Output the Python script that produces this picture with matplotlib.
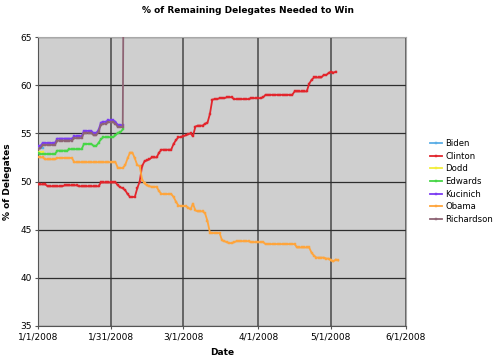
import matplotlib
matplotlib.use("Agg")
import matplotlib.pyplot as plt
import matplotlib.dates as mdates
import numpy as np
import pandas as pd

# daily values, first value = 1/1/2008
start = "2008-01-01"

biden = [53.55, 53.5, 53.5]
dodd = [53.1, 53.1, 53.1]

clinton = [49.7, 49.7, 49.7, 49.7, 49.5, 49.5, 49.5, 49.5, 49.5, 49.5, 49.5,
           49.6, 49.6, 49.6, 49.6, 49.6, 49.6,
           49.5, 49.5, 49.5, 49.5, 49.5, 49.5, 49.5, 49.5, 49.5,
           49.9, 49.9, 49.9, 49.9, 49.9, 49.9, 49.9,
           49.6, 49.4, 49.3, 49.1, 48.7, 48.4, 48.4, 48.4, 49.3, 50.0,
           51.6, 52.1, 52.2, 52.3, 52.5, 52.5, 52.5, 53.0, 53.3,
           53.3, 53.3, 53.3, 53.3, 53.9, 54.3, 54.6, 54.6, 54.7, 54.8, 54.9, 55.0, 54.7,
           55.7, 55.8, 55.8, 55.8, 56.0, 56.1, 57.0, 58.5, 58.55, 58.55,
           58.65, 58.65, 58.65, 58.75, 58.75, 58.75,
           58.55, 58.55, 58.55, 58.55, 58.55, 58.55, 58.55,
           58.65, 58.65, 58.65, 58.65, 58.65, 58.75,
           59.0, 59.0, 59.0, 59.0, 59.0, 59.0, 59.0, 59.0, 59.0, 59.0, 59.0, 59.0,
           59.35, 59.35, 59.35, 59.35, 59.35, 59.35,
           60.15, 60.55, 60.8, 60.8, 60.8, 60.8, 61.05, 61.05, 61.25, 61.4, 61.3, 61.4]

obama = [52.55, 52.5, 52.5, 52.3, 52.3, 52.3, 52.3, 52.3,
         52.45, 52.45, 52.45, 52.45, 52.45, 52.45, 52.45,
         52.0, 52.0, 52.0, 52.0, 52.0, 52.0, 52.0, 52.0, 52.0,
         52.0, 52.0, 52.0, 52.0, 52.0, 52.0, 52.0, 52.0, 52.0,
         51.4, 51.4, 51.4, 51.7, 52.4, 53.0, 53.0, 52.4, 51.7, 51.6,
         50.2, 49.8, 49.6, 49.5, 49.45, 49.45, 49.45, 49.0,
         48.7, 48.7, 48.7, 48.7, 48.7, 48.4, 47.9, 47.5, 47.45, 47.45, 47.45,
         47.3, 47.1, 47.7, 47.0, 46.9, 46.9, 46.9, 46.7, 45.9, 44.7,
         44.65, 44.65, 44.65, 44.65, 43.9, 43.8, 43.7, 43.6, 43.6, 43.7,
         43.8, 43.8, 43.8, 43.8, 43.8, 43.8,
         43.7, 43.7, 43.7, 43.7, 43.7, 43.7,
         43.5, 43.5, 43.5, 43.5, 43.5, 43.5, 43.5, 43.5, 43.5, 43.5, 43.5, 43.5, 43.5,
         43.15, 43.15, 43.15, 43.15, 43.15, 43.15,
         42.6, 42.3, 42.1, 42.1, 42.1, 42.1, 42.0, 42.0, 41.8, 41.7, 41.9, 41.8]

edwards = [53.0, 52.85, 52.85, 52.85, 52.85, 52.85, 52.85, 52.85,
           53.2, 53.2, 53.2, 53.2, 53.2,
           53.35, 53.35, 53.35, 53.35, 53.35, 53.35,
           53.9, 53.9, 53.9, 53.9, 53.7, 53.7, 54.0, 54.4,
           54.6, 54.6, 54.6, 54.6, 54.6, 54.8, 55.05, 55.1, 55.4]

kucinich = [53.7, 53.7, 54.0, 54.0, 54.0, 54.0, 54.0, 54.0,
            54.45, 54.45, 54.45, 54.45, 54.45, 54.45, 54.45,
            54.7, 54.7, 54.7, 54.7, 55.25, 55.25, 55.25, 55.25,
            55.0, 55.0, 55.35, 56.1, 56.2, 56.2, 56.35, 56.35, 56.35, 56.2,
            55.85, 55.85, 55.85]

richardson = [53.4, 53.45, 53.8, 53.8, 53.8, 53.8, 53.8, 53.8,
              54.25, 54.25, 54.25, 54.25, 54.25, 54.25, 54.25,
              54.5, 54.5, 54.5, 54.5, 55.05, 55.05, 55.05, 55.05,
              54.8, 54.8, 55.15, 55.9, 56.0, 56.0, 56.15, 56.15, 56.15, 56.0,
              55.65, 55.65, 55.65, 100.0]

names = ["Biden", "Clinton", "Dodd", "Edwards", "Kucinich", "Obama", "Richardson"]
serie = [biden, clinton, dodd, edwards, kucinich, obama, richardson]
kolory = ["#5aaee6", "#e2252c", "#f2ee3a", "#46d646", "#7b3cf2", "#ffa53c", "#8e6474"]

tick_dates = ["2008-01-01", "2008-01-31", "2008-03-01", "2008-04-01", "2008-05-01", "2008-06-01"]
tick_labels = ["1/1/2008", "1/31/2008", "3/1/2008", "4/1/2008", "5/1/2008", "6/1/2008"]
y_ticks = [35, 40, 45, 50, 55, 60, 65]

fig = plt.figure(figsize=(5.00, 3.63), dpi=100)
ax = fig.add_axes([0.076, 0.102, 0.736, 0.796])
ax.set_facecolor("#cfcfcf")

# siatka - pionowe grubsze, poziome ciemniejsze
for d in tick_dates:
    ax.axvline(pd.Timestamp(d), color="#5c5c5c", lw=1.3, zorder=1)
for y in y_ticks:
    ax.axhline(y, color="#2e2e2e", lw=0.9, zorder=1)

for name, vals, c in zip(names, serie, kolory):
    x = pd.date_range(start, periods=len(vals), freq="D")
    ax.plot(x, vals, color=c, lw=1.3, marker="s", markersize=2.1,
            markeredgewidth=0.3, label=name, zorder=3)

ax.set_xlim(pd.Timestamp("2008-01-01"), pd.Timestamp("2008-06-01"))
ax.set_ylim(35, 65)
ax.set_xticks([pd.Timestamp(d) for d in tick_dates])
ax.set_xticklabels(tick_labels)
ax.set_yticks(y_ticks)
ax.tick_params(axis="both", labelsize=6.5, length=2.5, width=0.8, color="#555555", pad=2)

for s in ["top", "right"]:
    ax.spines[s].set_color("#a8a8a8")
    ax.spines[s].set_linewidth(0.8)
for s in ["left", "bottom"]:
    ax.spines[s].set_color("#555555")
    ax.spines[s].set_linewidth(0.8)

ax.set_xlabel("Date", fontsize=6.5, fontweight="bold", labelpad=5)
ax.set_ylabel("% of Delegates", fontsize=6.5, fontweight="bold", labelpad=6)
fig.text(0.496, 0.972, "% of Remaining Delegates Needed to Win", ha="center", va="center",
         fontsize=6.5, fontweight="bold")

ax.legend(loc="center left", bbox_to_anchor=(1.06, 0.5), frameon=False, fontsize=6.1,
          handlelength=1.5, handletextpad=0.3, labelspacing=0.42, borderaxespad=0,
          borderpad=0.2)

plt.savefig("out.png", dpi=100)
